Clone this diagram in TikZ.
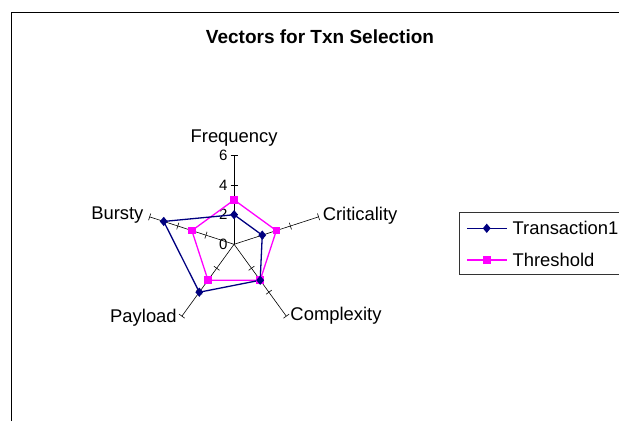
\documentclass[tikz,border=0pt]{standalone}
\usepackage{fontspec}
\setmainfont{Liberation Sans}
\usetikzlibrary{shapes.geometric,positioning,calc}

\definecolor{txnblue}{HTML}{000080}
\definecolor{threshpink}{HTML}{FF00FF}

\tikzset{
  axisline/.style={draw=black, line width=0.6pt},
  axislabel/.style={font=\fontsize{18.4}{20}\selectfont, inner sep=0pt},
  ticklabel/.style={font=\fontsize{15}{16}\selectfont, inner sep=0pt, anchor=east},
  txnline/.style={draw=txnblue, line width=1.3pt, line join=round},
  threshline/.style={draw=threshpink, line width=1.3pt, line join=round},
  txnmark/.style={diamond, fill=txnblue, inner sep=0pt, minimum width=8pt, minimum height=9.5pt},
  threshmark/.style={rectangle, fill=threshpink, inner sep=0pt, minimum size=7.5pt},
}

\begin{document}
\begin{tikzpicture}[x=1pt, y=1pt]
\useasboundingbox (0,0) rectangle (619,-421);

% chart frame and title
\draw[line width=1.3pt] (11.7,-421) -- (11.7,-12.7) -- (619,-12.7);
\node[font=\bfseries\fontsize{19}{21}\selectfont] (title) at (320,-37) {Vectors for Txn Selection};

% radar axes
\coordinate (center) at (234.1,-244.3);
\def\unit{14.8}
\foreach \ang/\name in {90/freq, 18/crit, -54/comp, -126/pay, 162/burst} {
  \coordinate (\name) at ($(center)+(\ang:6*\unit)$);
  \draw[axisline] (center) -- (\name);
  \foreach \v in {2,4,6}
    \draw[axisline] ($(center)+(\ang:\v*\unit)+(\ang+90:3.5)$) -- ($(center)+(\ang:\v*\unit)+(\ang-90:3.5)$);
}

% scale on the Frequency axis
\foreach \v in {0,2,4,6}
  \node[ticklabel] (tick\v) at ($(center)+(-6.5,\v*\unit)$) {\v};

% axis names
\node[axislabel, anchor=south] (freqlabel) at ($(freq)+(0,9)$) {Frequency};
\node[axislabel, anchor=west] (critlabel) at ($(crit)+(4,1)$) {Criticality};
\node[axislabel, anchor=west] (complabel) at ($(comp)+(4,0)$) {Complexity};
\node[axislabel, anchor=east] (paylabel) at ($(pay)+(-5,-1.5)$) {Payload};
\node[axislabel, anchor=east] (burstlabel) at ($(burst)+(-6,2)$) {Bursty};

% Threshold series
\foreach \ang/\v [count=\i] in {90/3, 18/3, -54/3, -126/3, 162/3}
  \coordinate (th\i) at ($(center)+(\ang:\v*\unit)$);
\draw[threshline] (th1) -- (th2) -- (th3) -- (th4) -- (th5) -- cycle;

% Transaction1 series
\foreach \ang/\v [count=\i] in {90/2, 18/2, -54/3, -126/4, 162/5}
  \coordinate (tx\i) at ($(center)+(\ang:\v*\unit)$);
\draw[txnline] (tx1) -- (tx2) -- (tx3) -- (tx4) -- (tx5) -- cycle;

\foreach \i in {1,...,5} {
  \node[threshmark] (thm\i) at (th\i) {};
}
\foreach \i in {1,...,5} {
  \node[txnmark] (txm\i) at (tx\i) {};
}

% legend
\draw[draw=black!80, line width=0.8pt] (619,-212.7) -- (459.3,-212.7) -- (459.3,-274) -- (619,-274);
\coordinate (legA) at (467,-228.3);
\coordinate (legB) at (506.5,-228.3);
\coordinate (legC) at (467,-260);
\coordinate (legD) at (506.5,-260);
\draw[txnline] (legA) -- (legB);
\node[txnmark] (legtxn) at ($(legA)!0.5!(legB)$) {};
\draw[threshline] (legC) -- (legD);
\node[threshmark] (legth) at ($(legC)!0.5!(legD)$) {};
\node[axislabel, anchor=west] (legtxntext) at (512.4,-228.3) {Transaction1};
\node[axislabel, anchor=west] (legthtext) at (512.4,-260) {Threshold};
\end{tikzpicture}
\end{document}
